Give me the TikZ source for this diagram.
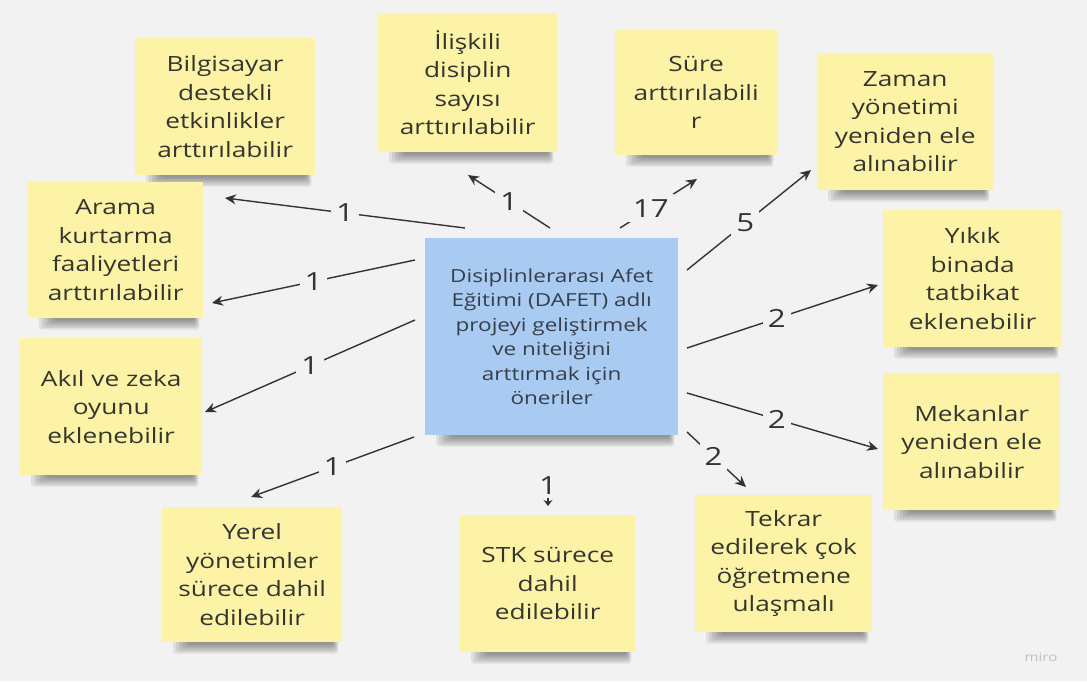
\documentclass[tikz,border=0pt]{standalone}
\usepackage{fontspec}
\setmainfont{Open Sans}[FakeStretch=1.25]
\usetikzlibrary{arrows.meta,calc}
\definecolor{bgc}{HTML}{F2F2F2}
\definecolor{stickyc}{HTML}{FCF3A6}
\definecolor{bluec}{HTML}{A9CBF2}
\definecolor{txtc}{HTML}{35352F}
\definecolor{ctxt}{HTML}{363E4A}
\definecolor{linec}{HTML}{333333}
\pgfdeclarelayer{bglayer}
\pgfdeclarelayer{shadowlayer}
\pgfsetlayers{bglayer,shadowlayer,main}
\begin{document}
\begin{tikzpicture}[x=1pt,y=-1pt,
  sticky/.style={rectangle, fill=stickyc, anchor=north west, inner sep=0pt, align=center,
    text=txtc, font=\fontsize{21}{28.5}\selectfont},
  centerbox/.style={rectangle, fill=bluec, anchor=north west, inner sep=0pt, align=center,
    text=ctxt, font=\fontsize{18}{24.5}\selectfont},
  conn/.style={draw=linec, line width=1.4pt, -{Stealth[length=11pt,width=10pt]}},
  cnt/.style={fill=bgc, text=linec, inner sep=5pt, font=\fontsize{25}{30}\selectfont},
  shade/.style={fill=black, opacity=0.075, rounded corners=3pt}
]
\begin{pgfonlayer}{bglayer}
\fill[bgc] (0,0) rectangle (1087,681);
\end{pgfonlayer}
\useasboundingbox (0,0) rectangle (1087,681);

% sticky notes
\node[sticky, minimum width=180pt, minimum height=137pt] (bilg) at (135,38)
  {Bilgisayar\\destekli\\etkinlikler\\arttırılabilir};
\node[sticky, minimum width=179pt, minimum height=139pt] (ilis) at (378,13)
  {İlişkili\\disiplin\\sayısı\\arttırılabilir};
\node[sticky, minimum width=162pt, minimum height=125pt] (sure) at (615,30)
  {Süre\\arttırılabili\\r};
\node[sticky, minimum width=176pt, minimum height=137pt] (zaman) at (817,53)
  {Zaman\\yönetimi\\yeniden ele\\alınabilir};
\node[sticky, minimum width=179pt, minimum height=137pt] (yikik) at (883,210)
  {Yıkık\\binada\\tatbikat\\eklenebilir};
\node[sticky, minimum width=177pt, minimum height=137pt] (mekan) at (883,373)
  {Mekanlar\\yeniden ele\\alınabilir};
\node[sticky, minimum width=177pt, minimum height=137pt] (tekrar) at (695,495)
  {Tekrar\\edilerek çok\\öğretmene\\ulaşmalı};
\node[sticky, minimum width=175pt, minimum height=137pt] (stk) at (460,515)
  {STK sürece\\dahil\\edilebilir};
\node[sticky, minimum width=180pt, minimum height=135pt] (yerel) at (162,507)
  {Yerel\\yönetimler\\sürece dahil\\edilebilir};
\node[sticky, minimum width=182pt, minimum height=137pt] (akil) at (20,338)
  {Akıl ve zeka\\oyunu\\eklenebilir};
\node[sticky, minimum width=175pt, minimum height=136pt] (arama) at (28,182)
  {Arama\\kurtarma\\faaliyetleri\\arttırılabilir};
\node[centerbox, minimum width=253pt, minimum height=197pt] (center) at (425,238)
  {Disiplinlerarası Afet\\Eğitimi (DAFET) adlı\\projeyi geliştirmek\\ve niteliğini\\arttırmak için\\öneriler};

% shadows
\begin{pgfonlayer}{shadowlayer}
\foreach \n in {bilg,ilis,sure,zaman,yikik,mekan,tekrar,stk,yerel,akil,arama,center}{
  \foreach \i in {1,...,6}{
    \fill[shade] ($(\n.south west)+({8+3*\i},-3)$) rectangle ($(\n.south east)+({-3-\i},{13-1.8*\i})$);
  }
}
\end{pgfonlayer}

% connector end points
\coordinate (s1) at (465,228);  \coordinate (e1) at (225,198);
\coordinate (s2) at (415,260);  \coordinate (e2) at (212,303);
\coordinate (s3) at (415,320);  \coordinate (e3) at (205,412);
\coordinate (s4) at (414,437);  \coordinate (e4) at (251,497);
\coordinate (s5) at (548,498);  \coordinate (e5) at (548,506);
\coordinate (s6) at (687,432);  \coordinate (e6) at (746,487);
\coordinate (s7) at (687,393);  \coordinate (e7) at (878,449);
\coordinate (s8) at (687,348);  \coordinate (e8) at (878,285);
\coordinate (s9) at (687,270);  \coordinate (e9) at (811,170);
\coordinate (s10) at (620,228); \coordinate (e10) at (697,179);
\coordinate (s11) at (550,228); \coordinate (e11) at (468,175);

\draw[conn] (s1) -- node[cnt] (l1) {1} (e1);
\draw[conn] (s2) -- node[cnt] (l2) {1} (e2);
\draw[conn] (s3) -- node[cnt] (l3) {1} (e3);
\draw[conn] (s4) -- node[cnt] (l4) {1} (e4);
\node[cnt, inner sep=2pt] (l5) at (548,486) {1};
\draw[draw=linec, line width=1.4pt, -{Stealth[length=6pt,width=9pt]}] (s5) -- (e5);
\draw[conn] (s6) -- node[cnt, pos=0.45] (l6) {2} (e6);
\draw[conn] (s7) -- node[cnt, pos=0.47] (l7) {2} (e7);
\draw[conn] (s8) -- node[cnt, pos=0.47] (l8) {2} (e8);
\draw[conn] (s9) -- node[cnt, pos=0.47] (l9) {5} (e9);
\draw[conn] (s10) -- node[cnt, pos=0.4] (l10) {17} (e10);
\draw[conn] (s11) -- node[cnt] (l11) {1} (e11);

\node[text=black!25, font=\fontsize{12}{14}\selectfont] (miro) at (1041,657) {miro};
\end{tikzpicture}
\end{document}
